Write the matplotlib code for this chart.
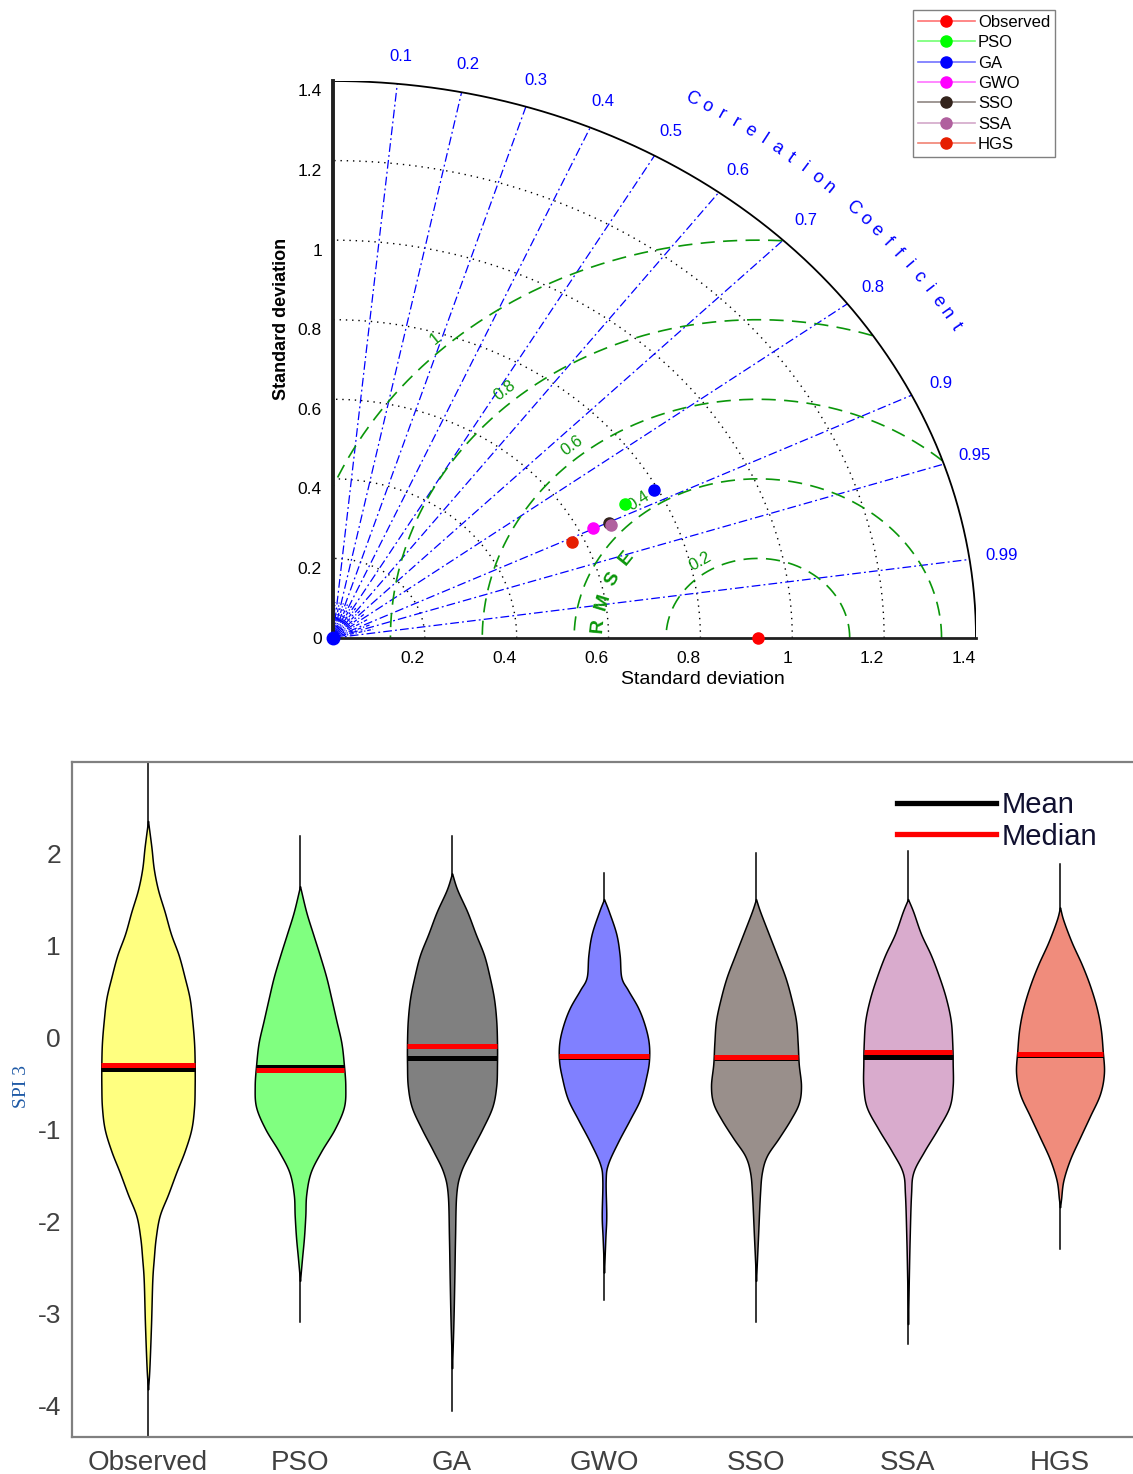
import numpy as np
import matplotlib
matplotlib.use('Agg')
import matplotlib.pyplot as plt
from matplotlib.lines import Line2D
from matplotlib.transforms import offset_copy

plt.rcParams['font.family'] = ['Liberation Sans', 'DejaVu Sans']
plt.rcParams['axes.unicode_minus'] = False

# ---------------- Taylor diagram data ----------------
models = ['Observed', 'PSO', 'GA', 'GWO', 'SSO', 'SSA', 'HGS']
taylor_std = [0.925, 0.720, 0.792, 0.630, 0.667, 0.668, 0.573]
taylor_corr = [1.0, 0.883, 0.883, 0.898, 0.902, 0.905, 0.907]
marker_colors = ['#ff0000', '#00ff00', '#0000ff', '#ff00ff', '#33231c', '#b0609e', '#e61e00']
corr_ticks = [0.1, 0.2, 0.3, 0.4, 0.5, 0.6, 0.7, 0.8, 0.9, 0.95, 0.99]
corr_minor = [0.05, 0.15, 0.25, 0.35, 0.45, 0.55, 0.65, 0.75, 0.85, 0.925, 0.97]
std_ticks = [0.2, 0.4, 0.6, 0.8, 1.0, 1.2, 1.4]
rmse_levels = [0.2, 0.4, 0.6, 0.8, 1.0]

# ---------------- violin data (value, half width) ----------------
obs_y = [2.36, 2.08, 1.84, 1.61, 1.37, 1.13, 0.90, 0.66, 0.43, 0.19, -0.05, -0.28, -0.52,
         -0.75, -0.99, -1.23, -1.46, -1.70, -1.93, -2.17, -2.40, -2.64, -3.11, -3.59, -3.82]
obs_w = [0, .022, .038, .066, .110, .151, .202, .241, .274, .291, .303, .307, .307,
         .303, .285, .241, .186, .132, .077, .051, .038, .028, .020, .009, 0]
pso_y = [1.65, 1.37, 1.13, 0.90, 0.66, 0.43, 0.19, -0.05, -0.28, -0.52, -0.75, -0.99,
         -1.23, -1.46, -1.70, -1.93, -2.17, -2.40, -2.64]
pso_w = [0, .041, .086, .130, .173, .206, .239, .272, .288, .298, .289, .228,
         .140, .070, .041, .035, .026, .013, 0]
ga_y = [1.79, 1.61, 1.37, 1.13, 0.90, 0.66, 0.43, 0.19, -0.05, -0.28, -0.52, -0.75,
        -0.99, -1.23, -1.46, -1.70, -2.17, -2.64, -3.11, -3.59]
ga_w = [0, .035, .101, .156, .211, .248, .276, .291, .296, .296, .291, .265,
        .199, .123, .057, .028, .020, .015, .009, 0]
gwo_y = [1.51, 1.37, 1.13, 0.90, 0.66, 0.52, 0.33, 0.14, -0.05, -0.24, -0.42, -0.66,
         -0.89, -1.13, -1.37, -1.55, -1.93, -2.17, -2.55]
gwo_w = [0, .033, .081, .103, .114, .158, .224, .268, .294, .296, .278, .239,
         .169, .092, .026, .011, .015, .009, 0]
sso_y = [1.51, 1.37, 1.13, 0.90, 0.66, 0.43, 0.19, -0.05, -0.28, -0.52, -0.71, -0.89,
         -1.09, -1.28, -1.46, -1.70, -2.17, -2.64]
sso_w = [0, .028, .084, .138, .193, .232, .263, .274, .281, .296, .281, .226,
         .149, .072, .039, .026, .013, 0]
ssa_y = [1.51, 1.37, 1.13, 0.90, 0.66, 0.43, 0.19, -0.05, -0.28, -0.52, -0.75, -0.99,
         -1.23, -1.46, -1.70, -2.17, -2.64, -3.11]
ssa_w = [0, .035, .086, .151, .206, .250, .281, .291, .294, .294, .272, .195,
         .107, .035, .020, .011, .005, 0]
hgs_y = [1.42, 1.28, 1.04, 0.80, 0.57, 0.33, 0.10, -0.14, -0.38, -0.61, -0.85, -1.08,
         -1.32, -1.55, -1.75, -1.84]
hgs_w = [0, .022, .077, .143, .197, .241, .268, .281, .289, .263, .197, .132,
         .066, .022, .007, 0]
range_min = [-4.6, -3.09, -4.05, -2.85, -3.09, -3.33, -2.29]
range_max = [3.3, 2.20, 2.20, 1.79, 2.01, 2.03, 1.89]
means = [-0.34, -0.32, -0.22, -0.21, -0.22, -0.21, -0.18]
medians = [-0.29, -0.35, -0.09, -0.20, -0.21, -0.15, -0.17]
violin_colors = ['#ffff80', '#80ff80', '#808080', '#8080ff', '#998f8b', '#d9abcd', '#f08c7c']

W, H = 1133, 1474
fig = plt.figure(figsize=(W / 100, H / 100), dpi=100)


def px_axes(l, t, r, b):
    return fig.add_axes([l / W, 1 - b / H, (r - l) / W, (b - t) / H])


def smooth_outline(ys, ws, n=10):
    # Catmull-Rom curve through the read outline points (drawing only)
    p = np.column_stack([ys, ws])
    p = np.vstack([2 * p[0] - p[1], p, 2 * p[-1] - p[-2]])
    out = []
    t = np.linspace(0, 1, n, endpoint=False)[:, None]
    for k in range(1, len(p) - 2):
        p0, p1, p2, p3 = p[k - 1], p[k], p[k + 1], p[k + 2]
        seg = 0.5 * ((2 * p1) + (-p0 + p2) * t + (2 * p0 - 5 * p1 + 4 * p2 - p3) * t ** 2
                     + (-p0 + 3 * p1 - 3 * p2 + p3) * t ** 3)
        out.append(seg)
    out.append(p[-2][None, :])
    out = np.vstack(out)
    return out[:, 0], np.clip(out[:, 1], 0, None)


# ================= Taylor diagram =================
ax = px_axes(333, 81, 976, 638)
ax.set_xlim(0, 1.4)
ax.set_ylim(0, 1.4)
ax.set_axis_off()
sx, sy = 643 / 1.4, 557 / 1.4


def rot(dx, dy):
    return np.degrees(np.arctan2(dy * sy, dx * sx))


green = '#0a960a'
rmax = std_ticks[-1]
th = np.linspace(0, np.pi / 2, 400)

for r in std_ticks[:-1]:
    ax.plot(r * np.cos(th), r * np.sin(th), color='k', lw=1, dashes=(1, 3.5), zorder=1)

for c in corr_ticks:
    a = np.arccos(c)
    ax.plot([0, rmax * np.cos(a)], [0, rmax * np.sin(a)], color='blue', lw=0.9,
            dashes=(7, 2.5, 1.5, 2.5), zorder=2)
    ax.text(1.47 * np.cos(a), 1.47 * np.sin(a), f'{c:g}', color='blue', fontsize=12,
            ha='center', va='center')
for c in corr_minor:
    a = np.arccos(c)
    ax.plot([0, 0.09 * np.cos(a)], [0, 0.09 * np.sin(a)], color='blue', lw=0.9,
            dashes=(3, 1.5, 1, 1.5), zorder=2)

ref = taylor_std[0]
phi = np.linspace(0, np.pi, 800)
rmse_angle = [123, 127, 130, 131.5, 133]
for r, ang in zip(rmse_levels, rmse_angle):
    x = ref + r * np.cos(phi)
    y = r * np.sin(phi)
    m = (x >= 0) & (x ** 2 + y ** 2 <= rmax ** 2)
    ax.plot(x[m], y[m], color=green, lw=1.2, dashes=(8.5, 5), zorder=3)
    p = np.radians(ang)
    ax.text(ref + (r + 0.03) * np.cos(p), (r + 0.03) * np.sin(p), f'{r:g}', color=green,
            fontsize=12, ha='center', va='center', rotation=rot(np.sin(p), -np.cos(p)),
            rotation_mode='anchor')

for ch, ang in zip('RMSE', [175, 165, 155, 145]):
    p = np.radians(ang)
    ax.text(ref + 0.35 * np.cos(p), 0.35 * np.sin(p), ch, color=green, fontsize=14,
            fontweight='bold', ha='center', va='center',
            rotation=rot(np.sin(p), -np.cos(p)), rotation_mode='anchor')

title = 'Correlation Coefficient'
angs = np.linspace(60, 30, len(title))
for ch, ang in zip(title, angs):
    if ch == ' ':
        continue
    p = np.radians(ang)
    ax.text(1.565 * np.cos(p), 1.565 * np.sin(p), ch, color='blue', fontsize=13,
            ha='center', va='center', rotation=rot(np.sin(p), -np.cos(p)),
            rotation_mode='anchor')

ax.plot(rmax * np.cos(th), rmax * np.sin(th), color='k', lw=1.3, zorder=4)
ax.plot([0, 0], [0, rmax], color='#202020', lw=2.8, clip_on=False, zorder=4)
ax.plot([0, rmax], [0, 0], color='#202020', lw=2, clip_on=False, zorder=4)
ax.plot(0, 0, 'o', color='blue', ms=9, clip_on=False, zorder=4)

ylab_tr = offset_copy(ax.transData, fig=fig, x=-11, y=-11, units='dots')
xlab_tr = offset_copy(ax.transData, fig=fig, x=0, y=-21, units='dots')
for v in std_ticks:
    ax.text(0, v, f'{v:g}', transform=ylab_tr, ha='right', va='center', fontsize=12.5)
    ax.text(v, 0, f'{v:g}', transform=xlab_tr, ha='right', va='center', fontsize=12.5)
ax.text(0, 0, '0', transform=offset_copy(ax.transData, fig=fig, x=-11, y=-2, units='dots'),
        ha='right', va='center', fontsize=12.5)
fig.text(703 / W, 1 - 679 / H, 'Standard deviation', ha='center', va='center', fontsize=14)
fig.text(281 / W, 1 - 319 / H, 'Standard deviation', ha='center', va='center',
         fontsize=13, fontweight='bold', rotation=90)

handles = []
for s, c, col in zip(taylor_std, taylor_corr, marker_colors):
    ax.plot(s * c, s * np.sqrt(max(0.0, 1 - c * c)), 'o', color=col, ms=8,
            clip_on=False, zorder=6)
    lc = matplotlib.colors.to_rgba(col, 0.55)
    handles.append(Line2D([], [], color=lc, lw=1.2, marker='o', ms=8,
                          markerfacecolor=col, markeredgecolor=col))
leg = fig.legend(handles, models, loc='upper left', bbox_to_anchor=(913 / W, 1 - 10 / H),
                 fontsize=12, handlelength=3.4, handletextpad=0.2, labelspacing=0.32,
                 borderpad=0.3, borderaxespad=0, fancybox=False, framealpha=1)
leg.get_frame().set_edgecolor('#808080')
leg.get_frame().set_linewidth(1)

# ================= violin plot =================
vx = px_axes(72, 762, 1136, 1437)
vx.set_xlim(0.5, 7.5)
vx.set_ylim(-4.337, 3.0)
for sp in ['top', 'left', 'bottom', 'right']:
    vx.spines[sp].set_color('#808080')
    vx.spines[sp].set_linewidth(1.6)
vx.set_xticks(range(1, 8))
vx.set_xticklabels(models, fontsize=20)
vx.set_yticks([-4, -3, -2, -1, 0, 1, 2])
vx.tick_params(axis='both', length=0, labelsize=19, colors='#404040')
vx.tick_params(axis='x', pad=9, labelsize=20)
vx.tick_params(axis='y', pad=8)

profiles = [(obs_y, obs_w), (pso_y, pso_w), (ga_y, ga_w), (gwo_y, gwo_w),
            (sso_y, sso_w), (ssa_y, ssa_w), (hgs_y, hgs_w)]
for i, (ys, ws) in enumerate(profiles):
    xc = i + 1
    sy_, sw_ = smooth_outline(np.array(ys), np.array(ws))
    vx.plot([xc, xc], [range_min[i], range_max[i]], color='k', lw=1.1, zorder=2)
    vx.fill_betweenx(sy_, xc - sw_, xc + sw_, facecolor=violin_colors[i], edgecolor='k',
                     lw=1.1, zorder=3)
    for val, col in [(means[i], 'k'), (medians[i], 'red')]:
        hw = np.interp(val, np.array(ys)[::-1], np.array(ws)[::-1])
        vx.plot([xc - hw, xc + hw], [val, val], color=col, lw=3.6, zorder=4,
                solid_capstyle='butt')

vh = [Line2D([], [], color='k', lw=3.8), Line2D([], [], color='red', lw=3.8)]
fig.legend(vh, ['Mean', 'Median'], loc='upper left', bbox_to_anchor=(897 / W, 1 - 791 / H),
           frameon=False, fontsize=21, handlelength=3.4, handletextpad=0.2,
           labelspacing=0.12, borderpad=0, borderaxespad=0, labelcolor='#101030')

fig.text(22 / W, 1 - 1086 / H, 'SPI 3', rotation=90, ha='center', va='center',
         family=['Liberation Serif', 'DejaVu Serif'], fontsize=14, color='#1f5aa6')

fig.savefig('out.png', dpi=100)
